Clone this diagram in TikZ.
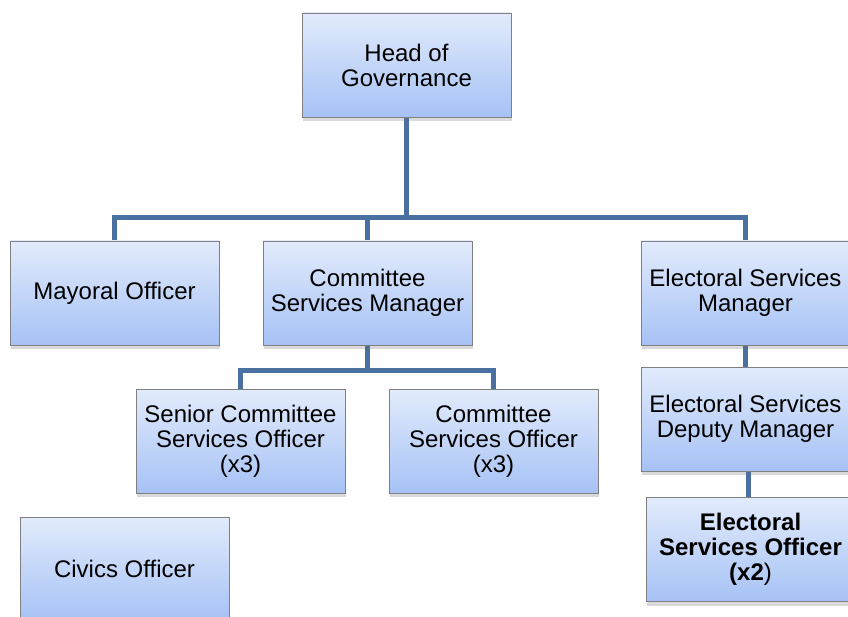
\documentclass[tikz,border=0pt]{standalone}
\usepackage{fontspec}
\setmainfont{Liberation Sans}
\usetikzlibrary{shadows,backgrounds}
\definecolor{linkblue}{RGB}{74,112,162}
\definecolor{boxtop}{RGB}{226,235,252}
\definecolor{boxbot}{RGB}{166,194,245}
\definecolor{boxedge}{RGB}{128,128,128}
\tikzset{
  orgbox/.style={draw=boxedge, line width=0.8pt, top color=boxtop, bottom color=boxbot,
    minimum width=209pt, minimum height=104pt, inner sep=2pt, align=center,
    font=\fontsize{24}{25}\selectfont,
    drop shadow={shadow xshift=1pt, shadow yshift=-4pt, opacity=0.25, fill=black!60}},
  link/.style={draw=linkblue, line width=5pt}
}
\begin{document}
\begin{tikzpicture}[x=1pt,y=-1pt]
\useasboundingbox (0,0) rectangle (848,617);
\clip (0,0) rectangle (848,617);
\node[orgbox] (head) at (406.5,65) {Head of\\Governance};
\node[orgbox] (mayor) at (114.5,293) {Mayoral Officer};
\node[orgbox] (csm) at (367.5,293) {Committee\\Services Manager};
\node[orgbox] (esm) at (745.5,293) {Electoral Services\\Manager};
\node[orgbox] (scso) at (240.5,441) {Senior Committee\\Services Officer\\(x3)};
\node[orgbox] (cso) at (493.5,441) {Committee\\Services Officer\\(x3)};
\node[orgbox] (esdm) at (745.5,419) {Electoral Services\\Deputy Manager};
\node[orgbox] (eso) at (750.5,549.5) {{\bfseries Electoral}\\{\bfseries Services Officer}\\{\bfseries (x2})};
\node[orgbox] (civ) at (124.5,569) {Civics Officer};
\begin{scope}[on background layer]
\coordinate (j1) at (406.5,218);
\coordinate (j2) at (367.5,370);
\draw[link] (head.south) -- (j1);
\draw[link] (j1) -| (mayor.north);
\draw[link] (j1) -| (csm.north);
\draw[link] (j1) -| (esm.north);
\draw[link] (csm.south) -- (j2);
\draw[link] (j2) -| (scso.north);
\draw[link] (j2) -| (cso.north);
\draw[link] (esm.south) -- (esdm.north);
\draw[link] (eso.north -| 748.5,0) -- (esdm.south -| 748.5,0);
\end{scope}
\end{tikzpicture}
\end{document}
